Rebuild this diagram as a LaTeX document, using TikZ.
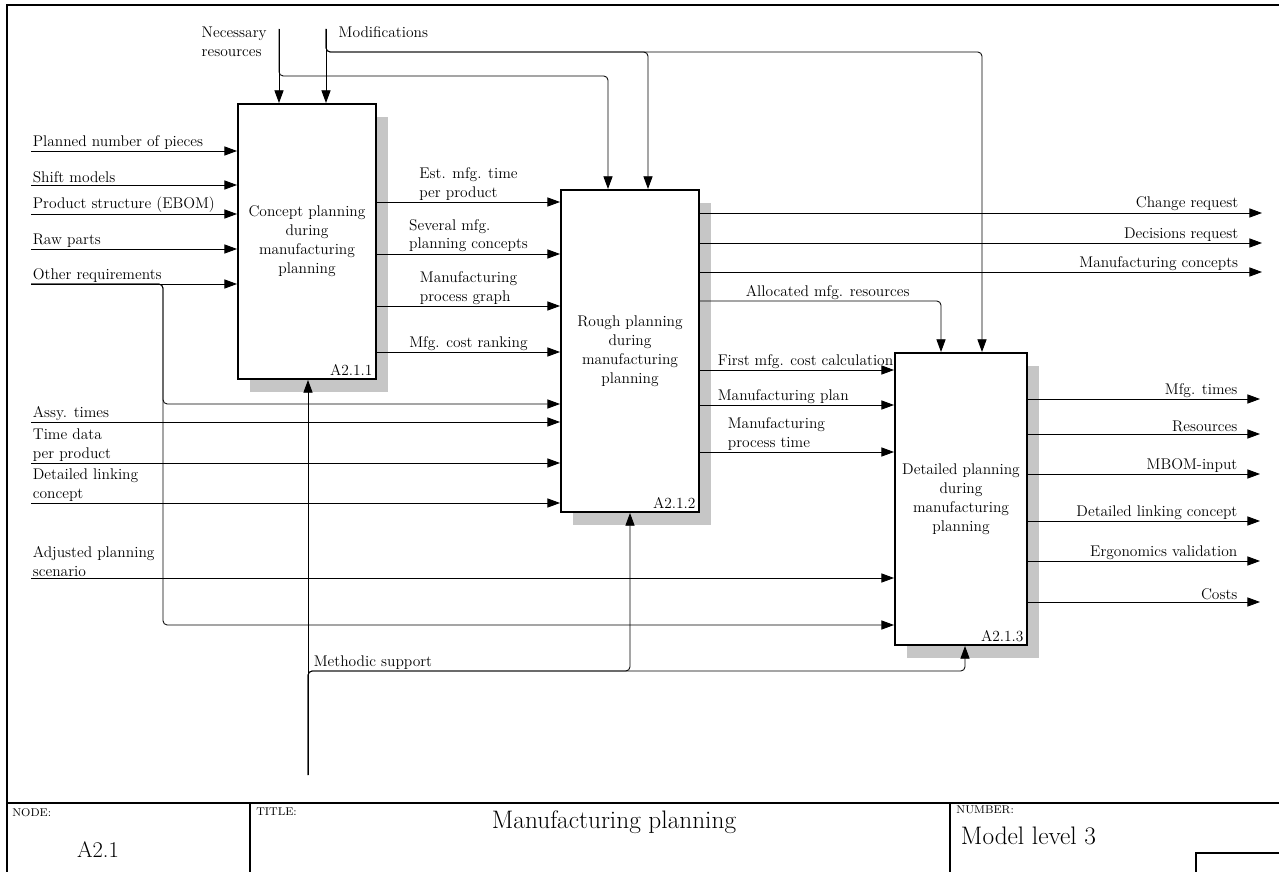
\documentclass[tikz,border=0pt]{standalone}
\usepackage{tikz}
\usetikzlibrary{arrows.meta, shadows}

\begin{document}
\begin{tikzpicture}[
        x=0.025cm, y=-0.025cm,
        txt/.style={font=\fontsize{11}{13.5}\selectfont},
        lbl/.style={txt, inner sep=1pt, align=left},
        procbox/.style={rectangle, draw=black, line width=1.4pt, fill=white, txt, align=center,
                    drop shadow={shadow xshift=0.3cm, shadow yshift=-0.33cm, fill=gray!45, opacity=1}},
        boxid/.style={txt, anchor=south east, inner sep=3pt},
        arrow/.style={-{Triangle[length=9pt, width=6.5pt]}, line width=0.6pt, rounded corners=3pt},
        sheetline/.style={line width=0.9pt},
        smallhd/.style={font=\fontsize{8}{9}\selectfont, anchor=north west, inner sep=0pt}
    ]
        \useasboundingbox (0,0) rectangle (1279,872);

        \draw[sheetline] (7,872) -- (7,5) -- (1279,5);
        \draw[sheetline] (7,803) -- (1279,803);
        \draw[sheetline] (250,803) -- (250,872);
        \draw[sheetline] (950,803) -- (950,872);
        \draw[sheetline] (1196,872) -- (1196,853) -- (1279,853);

        \node[smallhd] (nodehd) at (12,808) {NODE:};
        \node[font=\fontsize{16}{18}\selectfont] (nodeno) at (98,850) {A2.1};
        \node[smallhd] (titlehd) at (256,808) {TITLE:};
        \node[font=\fontsize{18}{20}\selectfont] (title) at (614,822) {Manufacturing planning};
        \node[smallhd] (numhd) at (956,806) {NUMBER:};
        \node[font=\fontsize{18}{20}\selectfont, anchor=west] (numno) at (956,836) {Model level 3};

        \node[procbox, minimum width=3.45cm, minimum height=6.875cm] (b1) at (307,241.5)
            {Concept planning\\during\\manufacturing\\planning};
        \node[procbox, minimum width=3.45cm, minimum height=8.05cm] (b2) at (630,351)
            {Rough planning\\during\\manufacturing\\planning};
        \node[procbox, minimum width=3.3cm, minimum height=7.3cm] (b3) at (961,499)
            {Detailed planning\\during\\manufacturing\\planning};
        \node[boxid] (id1) at (b1.south east) {A2.1.1};
        \node[boxid] (id2) at (b2.south east) {A2.1.2};
        \node[boxid] (id3) at (b3.south east) {A2.1.3};

        \coordinate (nres) at (279,29);
        \coordinate (mods) at (326,29);
        \coordinate (pieces) at (31,151);
        \coordinate (shift) at (31,185);
        \coordinate (ebom) at (31,214);
        \coordinate (raw) at (31,249);
        \coordinate (otherreq) at (31,284);
        \coordinate (assy) at (31,422);
        \coordinate (tdata) at (31,463);
        \coordinate (dlink) at (31,503);
        \coordinate (adjust) at (31,578);
        \coordinate (msup) at (308,775);

        \node[lbl, anchor=north west] (tnres) at (200,25) {Necessary\\resources};
        \node[lbl, anchor=north west] (tmods) at (337,25) {Modifications};
        \draw[arrow] (nres) -- (nres |- b1.north);
        \draw[arrow] (mods) -- (mods |- b1.north);
        \draw[arrow] (nres) -- (279,76) -- (608,76) -- (b2.north -| 608,0);
        \draw[arrow] (mods) -- (326,52) -- (648,52) -- (b2.north -| 648,0);
        \draw[arrow] (mods) -- (326,52) -- (982,52) -- (b3.north -| 982,0);

        \draw[arrow] (pieces) -- node[lbl, anchor=south west, pos=0] (tpieces) {Planned number of pieces} (pieces -| b1.west);
        \draw[arrow] (shift) -- node[lbl, anchor=south west, pos=0] (tshift) {Shift models} (shift -| b1.west);
        \draw[arrow] (ebom) -- node[lbl, anchor=south west, pos=0] (tebom) {Product structure (EBOM)} (ebom -| b1.west);
        \draw[arrow] (raw) -- node[lbl, anchor=south west, pos=0] (traw) {Raw parts} (raw -| b1.west);
        \draw[arrow] (otherreq) -- node[lbl, anchor=south west, pos=0] (tother) {Other requirements} (otherreq -| b1.west);
        \draw[arrow] (otherreq) -- (163,284) -- (163,404) -- (b2.west |- 0,404);
        \draw[arrow] (otherreq) -- (163,284) -- (163,625) -- (b3.west |- 0,625);

        \draw[arrow] (b1.east |- 0,202) -- node[lbl, anchor=south] (testt) {Est. mfg. time\\per product} (b2.west |- 0,202);
        \draw[arrow] (b1.east |- 0,254) -- node[lbl, anchor=south] (tsev) {Several mfg.\\planning concepts} (b2.west |- 0,254);
        \draw[arrow] (b1.east |- 0,306) -- node[lbl, anchor=south] (tgraph) {Manufacturing\\process graph} (b2.west |- 0,306);
        \draw[arrow] (b1.east |- 0,352) -- node[lbl, anchor=south] (trank) {Mfg. cost ranking} (b2.west |- 0,352);

        \draw[arrow] (assy) -- node[lbl, anchor=south west, pos=0] (tassy) {Assy. times} (assy -| b2.west);
        \draw[arrow] (tdata) -- node[lbl, anchor=south west, pos=0] (ttdata) {Time data\\per product} (tdata -| b2.west);
        \draw[arrow] (dlink) -- node[lbl, anchor=south west, pos=0] (tdlink) {Detailed linking\\concept} (dlink -| b2.west);
        \draw[arrow] (adjust) -- node[lbl, anchor=south west, pos=0] (tadjust) {Adjusted planning\\scenario} (adjust -| b3.west);

        \draw[arrow] (b2.east |- 0,213) -- (1262,213) node[lbl, anchor=south east, pos=1, xshift=-0.55cm] (tchange) {Change request};
        \draw[arrow] (b2.east |- 0,243) -- (1262,243) node[lbl, anchor=south east, pos=1, xshift=-0.55cm] (tdecis) {Decisions request};
        \draw[arrow] (b2.east |- 0,272) -- (1262,272) node[lbl, anchor=south east, pos=1, xshift=-0.55cm] (tconc) {Manufacturing concepts};
        \draw[arrow] (b2.east |- 0,301) -- node[lbl, anchor=south west, pos=0, xshift=1.1cm] (talloc) {Allocated mfg. resources} (941,301) -- (b3.north -| 941,0);

        \draw[arrow] (b2.east |- 0,370) -- node[lbl, anchor=south west, pos=0, xshift=0.4cm] (tfirst) {First mfg. cost calculation} (b3.west |- 0,370);
        \draw[arrow] (b2.east |- 0,405) -- node[lbl, anchor=south west, pos=0, xshift=0.4cm] (tplan) {Manufacturing plan} (b3.west |- 0,405);
        \draw[arrow] (b2.east |- 0,452) -- node[lbl, anchor=south west, pos=0, xshift=0.65cm] (tptime) {Manufacturing\\process time} (b3.west |- 0,452);

        \draw[arrow] (b3.east |- 0,399) -- (1260,399) node[lbl, anchor=south east, pos=1, xshift=-0.52cm] (tmfgt) {Mfg. times};
        \draw[arrow] (b3.east |- 0,434) -- (1260,434) node[lbl, anchor=south east, pos=1, xshift=-0.52cm] (tres) {Resources};
        \draw[arrow] (b3.east |- 0,474) -- (1260,474) node[lbl, anchor=south east, pos=1, xshift=-0.52cm] (tmbom) {MBOM-input};
        \draw[arrow] (b3.east |- 0,521) -- (1260,521) node[lbl, anchor=south east, pos=1, xshift=-0.52cm] (tdlc) {Detailed linking concept};
        \draw[arrow] (b3.east |- 0,561) -- (1260,561) node[lbl, anchor=south east, pos=1, xshift=-0.52cm] (tergo) {Ergonomics validation};
        \draw[arrow] (b3.east |- 0,602) -- (1260,602) node[lbl, anchor=south east, pos=1, xshift=-0.52cm] (tcosts) {Costs};

        \draw[arrow] (msup) -- (msup |- b1.south);
        \draw[arrow] (msup) -- (308,671) -- node[lbl, anchor=south west, pos=0, xshift=0.1cm] (tmsup) {Methodic support} (630,671) -- (b2.south);
        \draw[arrow] (msup) -- (308,671) -- (965,671) -- (b3.south -| 965,0);
    \end{tikzpicture}
\end{document}
